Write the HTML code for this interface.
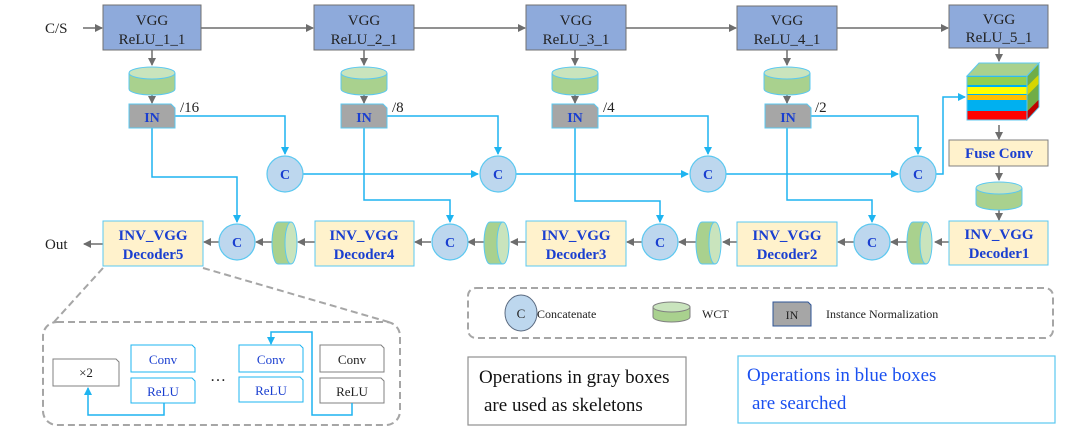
<!DOCTYPE html>
<html><head><meta charset="utf-8"><style>
html,body{margin:0;padding:0;background:#fff;}
svg{display:block;}
text{font-family:"Liberation Serif",serif;}
</style></head><body>
<svg width="1080" height="433" viewBox="0 0 1080 433" xmlns="http://www.w3.org/2000/svg">
<defs>
<marker id="ga" markerWidth="8" markerHeight="8" refX="7" refY="4" orient="auto" markerUnits="userSpaceOnUse"><path d="M0,0 L8,4 L0,8 z" fill="#6d6d6d"/></marker>
<marker id="ba" markerWidth="8" markerHeight="8" refX="7" refY="4" orient="auto" markerUnits="userSpaceOnUse"><path d="M0,0 L8,4 L0,8 z" fill="#1eb4f0"/></marker>
<g id="wct"><path d="M-23,0 v16 a23,6 0 0 0 46,0 v-16" fill="#a9d18e" stroke="#5bc8f0" stroke-width="1"/><ellipse cx="0" cy="0" rx="23" ry="6" fill="#c9e4bd" stroke="#5bc8f0" stroke-width="1"/></g>
<g id="wcts"><path d="M-7,-21 h13 v42 h-13 a6,21 0 0 1 0,-42z" fill="#a9d18e" stroke="#5bc8f0" stroke-width="1"/><ellipse cx="6" cy="0" rx="6" ry="21" fill="#c9e4bd" stroke="#5bc8f0" stroke-width="1"/></g>
<g id="cc"><circle r="18" fill="#bdd7ee" stroke="#5bc8f0" stroke-width="1.2"/><text y="5" text-anchor="middle" font-size="14" font-weight="bold" fill="#1a3fd0">C</text></g>
</defs>

<!-- top row arrows -->
<g stroke="#6d6d6d" stroke-width="1.5" fill="none">
<line x1="83" y1="28" x2="102" y2="28" marker-end="url(#ga)"/>
<line x1="201" y1="28" x2="313" y2="28" marker-end="url(#ga)"/>
<line x1="414" y1="28" x2="525" y2="28" marker-end="url(#ga)"/>
<line x1="626" y1="28" x2="736" y2="28" marker-end="url(#ga)"/>
<line x1="837" y1="28" x2="948" y2="28" marker-end="url(#ga)"/>
<line x1="152" y1="50" x2="152" y2="65" marker-end="url(#ga)"/>
<line x1="364" y1="50" x2="364" y2="65" marker-end="url(#ga)"/>
<line x1="575" y1="50" x2="575" y2="65" marker-end="url(#ga)"/>
<line x1="787" y1="50" x2="787" y2="65" marker-end="url(#ga)"/>
<line x1="152" y1="90" x2="152" y2="103" marker-end="url(#ga)"/>
<line x1="364" y1="90" x2="364" y2="103" marker-end="url(#ga)"/>
<line x1="575" y1="90" x2="575" y2="103" marker-end="url(#ga)"/>
<line x1="787" y1="90" x2="787" y2="103" marker-end="url(#ga)"/>
<line x1="999" y1="48" x2="999" y2="61" marker-end="url(#ga)"/>
<line x1="999" y1="125" x2="999" y2="139" marker-end="url(#ga)"/>
<line x1="999" y1="166" x2="999" y2="180" marker-end="url(#ga)"/>
<line x1="999" y1="207" x2="999" y2="220" marker-end="url(#ga)"/>
<!-- bottom row -->
<line x1="949" y1="242" x2="935" y2="242" marker-end="url(#ga)"/>
<line x1="908" y1="242" x2="891" y2="242" marker-end="url(#ga)"/>
<line x1="854" y1="242" x2="838" y2="242" marker-end="url(#ga)"/>
<line x1="737" y1="242" x2="723" y2="242" marker-end="url(#ga)"/>
<line x1="697" y1="242" x2="679" y2="242" marker-end="url(#ga)"/>
<line x1="642" y1="242" x2="627" y2="242" marker-end="url(#ga)"/>
<line x1="526" y1="242" x2="511" y2="242" marker-end="url(#ga)"/>
<line x1="485" y1="242" x2="468" y2="242" marker-end="url(#ga)"/>
<line x1="431" y1="242" x2="415" y2="242" marker-end="url(#ga)"/>
<line x1="315" y1="242" x2="298" y2="242" marker-end="url(#ga)"/>
<line x1="272" y1="242" x2="256" y2="242" marker-end="url(#ga)"/>
<line x1="219" y1="242" x2="204" y2="242" marker-end="url(#ga)"/>
<line x1="103" y1="244" x2="84" y2="244" marker-end="url(#ga)"/>
</g>

<!-- blue connectors -->
<g stroke="#1eb4f0" stroke-width="1.5" fill="none">
<polyline points="175,116 285,116 285,154" marker-end="url(#ba)"/>
<polyline points="387,116 498,116 498,154" marker-end="url(#ba)"/>
<polyline points="598,116 708,116 708,154" marker-end="url(#ba)"/>
<polyline points="810,116 918,116 918,154" marker-end="url(#ba)"/>
<line x1="303" y1="174" x2="478" y2="174" marker-end="url(#ba)"/>
<line x1="516" y1="174" x2="688" y2="174" marker-end="url(#ba)"/>
<line x1="726" y1="174" x2="898" y2="174" marker-end="url(#ba)"/>
<polyline points="936,174 943,174 943,97 965,97" marker-end="url(#ba)"/>
<polyline points="152,128 152,177 237,177 237,222" marker-end="url(#ba)"/>
<polyline points="364,128 364,200 450,200 450,222" marker-end="url(#ba)"/>
<polyline points="575,128 575,201 660,201 660,222" marker-end="url(#ba)"/>
<polyline points="787,128 787,200 872,200 872,222" marker-end="url(#ba)"/>
</g>

<!-- VGG boxes -->
<g font-size="15" fill="#222" text-anchor="middle">
<rect x="103" y="5" width="98" height="45" fill="#8eaadb" stroke="#707070"/><text x="152" y="25">VGG</text><text x="152" y="44">ReLU_1_1</text>
<rect x="314" y="5" width="100" height="45" fill="#8eaadb" stroke="#707070"/><text x="364" y="25">VGG</text><text x="364" y="44">ReLU_2_1</text>
<rect x="526" y="5" width="100" height="45" fill="#8eaadb" stroke="#707070"/><text x="576" y="25">VGG</text><text x="576" y="44">ReLU_3_1</text>
<rect x="737" y="6" width="100" height="44" fill="#8eaadb" stroke="#707070"/><text x="787" y="25">VGG</text><text x="787" y="44">ReLU_4_1</text>
<rect x="949" y="5" width="99" height="43" fill="#8eaadb" stroke="#707070"/><text x="999" y="24">VGG</text><text x="999" y="42">ReLU_5_1</text>
</g>
<text x="45" y="33" font-size="15" fill="#222">C/S</text>
<text x="45" y="249" font-size="15" fill="#222">Out</text>

<!-- WCT cylinders -->
<use href="#wct" x="152" y="73"/>
<use href="#wct" x="364" y="73"/>
<use href="#wct" x="575" y="73"/>
<use href="#wct" x="787" y="73"/>
<use href="#wct" x="999" y="188"/>

<!-- IN boxes -->
<g font-size="14" font-weight="bold" fill="#1a3fd0" text-anchor="middle">
<path d="M129,104 h42 l4,4 v20 h-46z" fill="#a6a6a6" stroke="#5bc8f0"/><text x="152" y="122">IN</text>
<path d="M341,104 h42 l4,4 v20 h-46z" fill="#a6a6a6" stroke="#5bc8f0"/><text x="364" y="122">IN</text>
<path d="M552,104 h42 l4,4 v20 h-46z" fill="#a6a6a6" stroke="#5bc8f0"/><text x="575" y="122">IN</text>
<path d="M765,104 h42 l4,4 v20 h-46z" fill="#a6a6a6" stroke="#5bc8f0"/><text x="788" y="122">IN</text>
</g>
<g font-size="15" fill="#222">
<text x="180" y="112">/16</text><text x="392" y="112">/8</text><text x="603" y="112">/4</text><text x="815" y="112">/2</text>
</g>

<!-- C circles -->
<use href="#cc" x="285" y="174"/>
<use href="#cc" x="498" y="174"/>
<use href="#cc" x="708" y="174"/>
<use href="#cc" x="918" y="174"/>
<use href="#cc" x="237" y="242"/>
<use href="#cc" x="450" y="242"/>
<use href="#cc" x="660" y="242"/>
<use href="#cc" x="872" y="242"/>

<!-- side WCT -->
<use href="#wcts" x="285" y="243"/>
<use href="#wcts" x="497" y="243"/>
<use href="#wcts" x="709" y="243"/>
<use href="#wcts" x="920" y="243"/>

<!-- cube -->
<g stroke="#5bc8f0" stroke-width="1">
<path d="M967,76 L979,63 L1039,63 L1027,76z" fill="#a9d18e"/>
<path d="M1027,76 L1039,63 L1039,107 L1027,120z" fill="#70ad47"/>
<rect x="967" y="76" width="60" height="44" fill="#00b0f0"/>
</g>
<rect x="967.5" y="77" width="59" height="8" fill="#92d050"/>
<rect x="967.5" y="87" width="59" height="7" fill="#ffff00"/>
<rect x="967.5" y="95" width="59" height="5" fill="#ffc000"/>
<rect x="967.5" y="101" width="59" height="9" fill="#00b0f0"/>
<rect x="967.5" y="111" width="59" height="8.5" fill="#ff0000"/>
<path d="M1027.5,111 L1038.5,100 L1038.5,107 L1027.5,119z" fill="#c00000"/>
<path d="M1027.5,86 L1038.5,75 L1038.5,84 L1027.5,95z" fill="#d6d600"/>

<!-- Fuse conv & decoders -->
<g font-size="15" font-weight="bold" fill="#1a3fd0" text-anchor="middle">
<rect x="949" y="140" width="99" height="26" fill="#fff2cc" stroke="#808080"/><text x="999" y="158">Fuse Conv</text>
<rect x="949" y="221" width="99" height="44" fill="#fff2cc" stroke="#5bc8f0"/><text x="999" y="239">INV_VGG</text><text x="999" y="258">Decoder1</text>
<rect x="737" y="222" width="100" height="44" fill="#fff2cc" stroke="#5bc8f0"/><text x="787" y="240">INV_VGG</text><text x="787" y="259">Decoder2</text>
<rect x="526" y="221" width="100" height="45" fill="#fff2cc" stroke="#5bc8f0"/><text x="576" y="240">INV_VGG</text><text x="576" y="259">Decoder3</text>
<rect x="315" y="221" width="99" height="45" fill="#fff2cc" stroke="#5bc8f0"/><text x="364" y="240">INV_VGG</text><text x="364" y="259">Decoder4</text>
<rect x="103" y="221" width="100" height="45" fill="#fff2cc" stroke="#5bc8f0"/><text x="153" y="240">INV_VGG</text><text x="153" y="259">Decoder5</text>
</g>

<!-- zoom-in dashed -->
<g stroke="#a6a6a6" stroke-width="2" stroke-dasharray="7,4" fill="none">
<line x1="103" y1="268" x2="54" y2="322"/>
<line x1="203" y1="268" x2="392" y2="323"/>
<rect x="43" y="322" width="357" height="103" rx="14"/>
<rect x="468" y="288" width="585" height="50" rx="8"/>
</g>

<!-- inner blocks -->
<g font-size="13" text-anchor="middle">
<path d="M53,359 h63 l3,3 v24 h-66z" fill="#fff" stroke="#808080"/><text x="86" y="377" fill="#222">×2</text>
<path d="M131,345 h61 l3,3 v24 h-64z" fill="#fff" stroke="#1eb4f0"/><text x="163" y="364" fill="#1a3fd0">Conv</text>
<path d="M131,378 h61 l3,3 v22 h-64z" fill="#fff" stroke="#1eb4f0"/><text x="163" y="396" fill="#1a3fd0">ReLU</text>
<path d="M239,345 h61 l3,3 v24 h-64z" fill="#fff" stroke="#1eb4f0"/><text x="271" y="364" fill="#1a3fd0">Conv</text>
<path d="M239,377 h61 l3,3 v22 h-64z" fill="#fff" stroke="#1eb4f0"/><text x="271" y="395" fill="#1a3fd0">ReLU</text>
<path d="M320,345 h61 l3,3 v24 h-64z" fill="#fff" stroke="#808080"/><text x="352" y="364" fill="#222">Conv</text>
<path d="M320,378 h61 l3,3 v22 h-64z" fill="#fff" stroke="#808080"/><text x="352" y="396" fill="#222">ReLU</text>
</g>
<text x="218" y="381" font-size="16" fill="#222" text-anchor="middle">…</text>
<g stroke="#1eb4f0" stroke-width="1.5" fill="none">
<polyline points="164,403 164,415 88,415 88,388" marker-end="url(#ba)"/>
<polyline points="352,403 352,415 312,415 312,332 271,332 271,344" marker-end="url(#ba)"/>
</g>

<!-- legend -->
<ellipse cx="521" cy="313" rx="16" ry="18" fill="#bdd7ee" stroke="#5a6a80" stroke-width="1"/>
<text x="521" y="318" font-size="13" text-anchor="middle" fill="#222">C</text>
<text x="537" y="318" font-size="12" fill="#222">Concatenate</text>
<path d="M653,307 v10 a18.5,5 0 0 0 37,0 v-10" fill="#a9d18e" stroke="#808080"/>
<ellipse cx="671.5" cy="307" rx="18.5" ry="5" fill="#c9e4bd" stroke="#808080"/>
<text x="702" y="318" font-size="12" fill="#222">WCT</text>
<path d="M773,302 h35 l3,3 v21 h-38z" fill="#a6a6a6" stroke="#2f5597"/>
<text x="792" y="319" font-size="12" text-anchor="middle" fill="#222">IN</text>
<text x="826" y="318" font-size="12" fill="#222">Instance Normalization</text>

<rect x="468" y="357" width="218" height="68" fill="#fff" stroke="#909090" stroke-width="1.2"/>
<text x="479" y="383" font-size="19" fill="#111">Operations in gray boxes</text>
<text x="484" y="411" font-size="19" fill="#111">are used as skeletons</text>
<rect x="738" y="356" width="317" height="67" fill="#fff" stroke="#5bc8f0" stroke-width="1.2"/>
<text x="747" y="381" font-size="19" fill="#1a50f0">Operations in blue boxes</text>
<text x="752" y="409" font-size="19" fill="#1a50f0">are searched</text>
</svg>
</body></html>
